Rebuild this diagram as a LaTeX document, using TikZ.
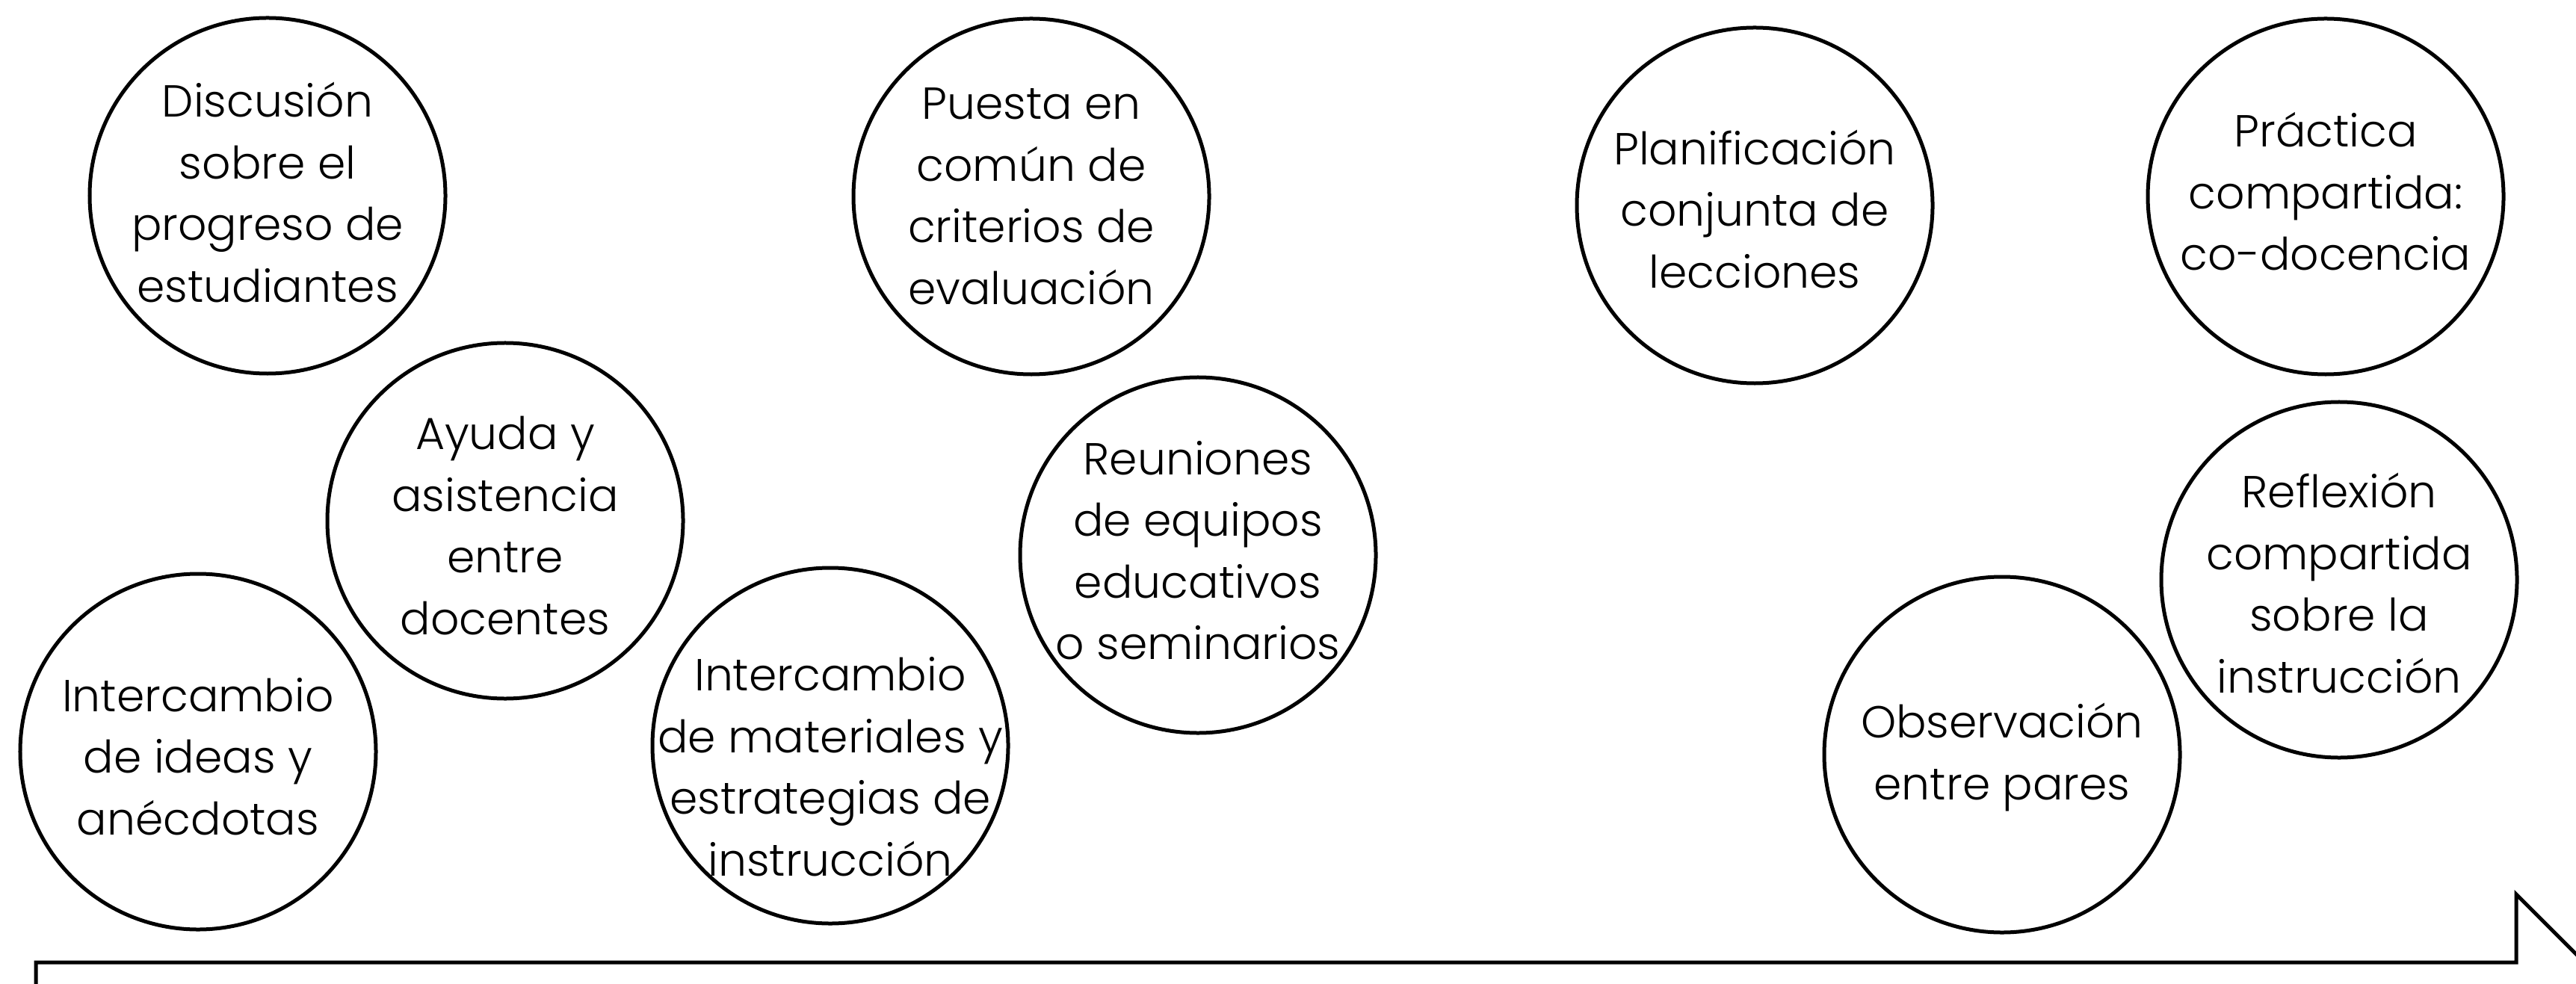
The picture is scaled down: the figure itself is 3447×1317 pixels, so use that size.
\documentclass[tikz,border=0pt]{standalone}
\usepackage{fontspec}
\setmainfont{Poppins}[UprightFont=* Light]
\begin{document}
\begin{tikzpicture}[x=0.2pt,y=-0.2pt,
  bubble/.style n args={2}{circle, draw, line width=1pt, minimum size=95.2pt, inner sep=0pt,
    label={[bubbletext,yshift=#2]center:#1}},
  bubbletext/.style={align=center, inner sep=0pt, font=\fontsize{12}{16.5}\selectfont},
  band/.style={line width=1pt, line join=miter}]
\useasboundingbox (0,0) rectangle (3447,1317);
\begin{scope}
\clip (0,0) rectangle (3447,1317);
\coordinate (a0) at (48,1420);
\coordinate (a1) at (48,1288);
\coordinate (a2) at (3367,1288);
\coordinate (a3) at (3367,1197);
\coordinate (a4) at (3620,1450);
\draw[band] (a0) -- (a1) -- (a2) -- (a3) -- (a4);
\end{scope}
\node[bubble={Discusión\\sobre el\\progreso de\\estudiantes}{0.9pt}] (disc) at (358,262) {};
\node[bubble={Ayuda y\\asistencia\\entre\\docentes}{-1.3pt}] (ayuda) at (676,697) {};
\node[bubble={Intercambio\\de ideas y\\anécdotas}{-1.3pt}] (ideas) at (265,1006) {};
\node[bubble={Intercambio\\de materiales y\\estrategias de\\instrucción}{-5.6pt}] (mater) at (1111,998) {};
\node[bubble={Puesta en\\común de\\criterios de\\evaluación}{0pt}] (puesta) at (1380,263) {};
\node[bubble={Reuniones\\de equipos\\educativos\\o seminarios}{1.3pt}] (reun) at (1603,743) {};
\node[bubble={Planificación\\conjunta de\\lecciones}{-0.9pt}] (plan) at (2348,275) {};
\node[bubble={Práctica\\compartida:\\co-docencia}{1.3pt}] (pract) at (3112,263) {};
\node[bubble={Reflexión\\compartida\\sobre la\\instrucción}{-0.9pt}] (refl) at (3130,776) {};
\node[bubble={Observación\\entre pares}{-0.7pt}] (obs) at (2679,1010) {};
\end{tikzpicture}
\end{document}
